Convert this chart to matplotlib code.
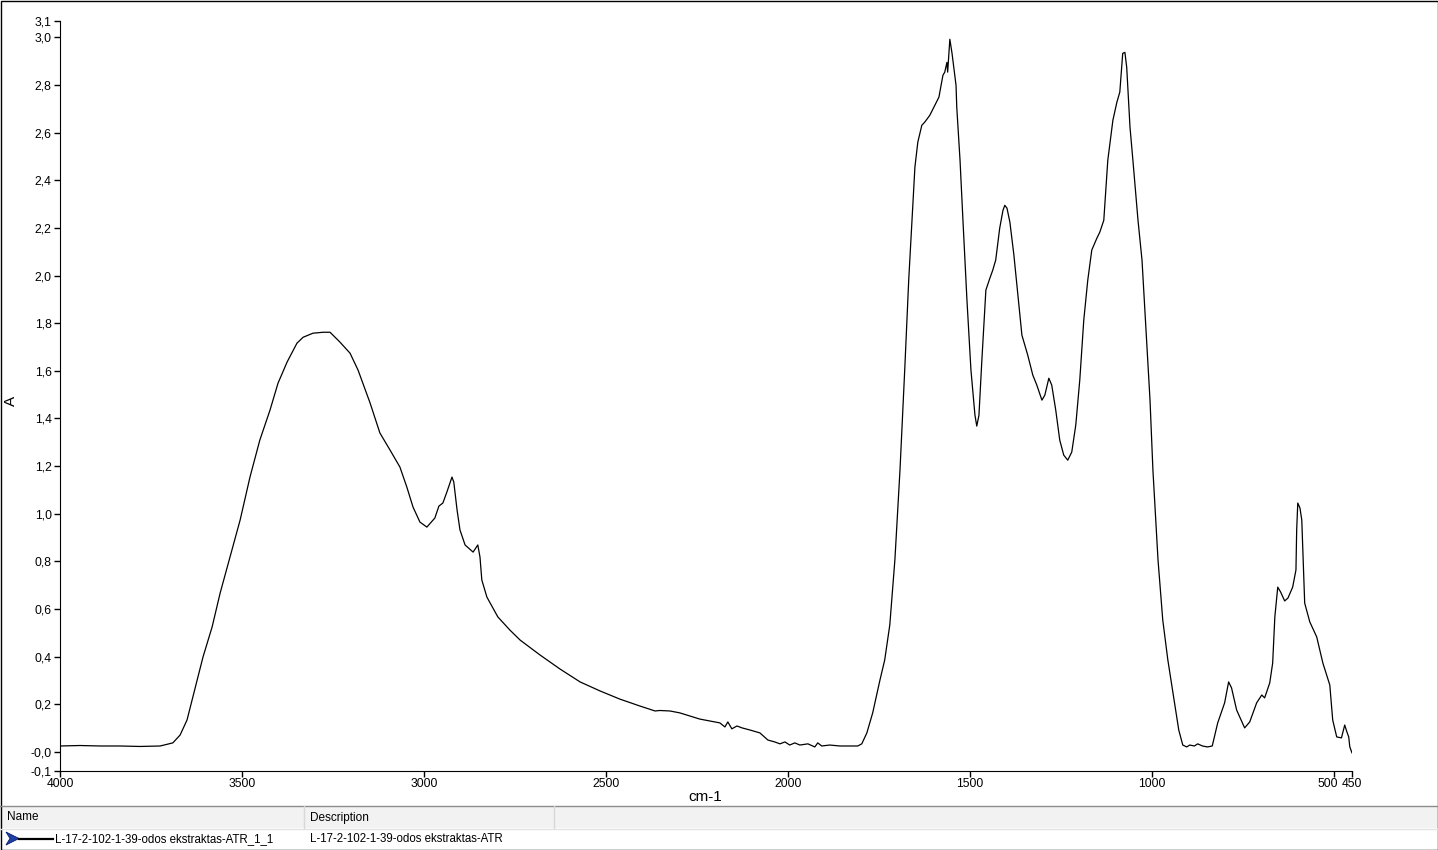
import matplotlib
matplotlib.use("Agg")
import matplotlib.pyplot as plt
import matplotlib.transforms as mtransforms
from matplotlib.patches import Polygon, Rectangle

plt.rcParams['font.family'] = ['Liberation Sans', 'DejaVu Sans']

# Spectrum: wavenumber (cm-1) and absorbance
wavenumber = [
    4000, 3945, 3890, 3835, 3780, 3725, 3690, 3670, 3651, 3635, 3607, 3582,
    3560, 3533, 3505, 3478, 3451, 3423, 3401, 3376, 3349, 3332, 3305, 3277,
    3258, 3231, 3203, 3181, 3148, 3121, 3093, 3066, 3047, 3030, 3011, 2992,
    2970, 2959, 2948, 2937, 2923, 2918, 2909, 2901, 2887, 2865, 2852, 2846,
    2841, 2827, 2797, 2764, 2736, 2681, 2626, 2571, 2516, 2462, 2407, 2365,
    2352, 2324, 2297, 2242, 2187, 2173, 2165, 2154, 2140, 2126, 2104, 2077,
    2055, 2036, 2022, 2008, 1995, 1981, 1967, 1945, 1926, 1918, 1907, 1885,
    1857, 1830, 1808, 1797, 1783, 1767, 1747, 1734, 1720, 1706, 1692, 1679,
    1668, 1659, 1651, 1643, 1632, 1624, 1610, 1596, 1585, 1574, 1569, 1563,
    1561, 1555, 1549, 1538, 1536, 1527, 1519, 1508, 1497, 1486, 1481, 1475,
    1467, 1456, 1445, 1437, 1429, 1418, 1409, 1404, 1398, 1390, 1379, 1368,
    1357, 1349, 1341, 1327, 1316, 1302, 1294, 1283, 1275, 1264, 1253, 1242,
    1231, 1220, 1209, 1198, 1187, 1176, 1165, 1151, 1143, 1132, 1121, 1107,
    1096, 1088, 1080, 1074, 1069, 1060, 1052, 1038, 1027, 1016, 1005, 997,
    983, 970, 956, 939, 926, 915, 904, 896, 883, 874, 861, 847, 834, 819,
    800, 789, 781, 767, 745, 731, 712, 698, 690, 676, 668, 662, 654, 646,
    635, 626, 613, 604, 602, 599, 593, 588, 580, 566, 547, 530, 511, 503,
    492, 479, 470, 464, 459, 456, 450,
]
absorbance = [
    0.025, 0.027, 0.025, 0.025, 0.023, 0.025, 0.038, 0.071, 0.134, 0.231, 0.399, 0.525,
    0.667, 0.818, 0.974, 1.154, 1.309, 1.435, 1.548, 1.637, 1.716, 1.741, 1.758, 1.762,
    1.762, 1.721, 1.674, 1.603, 1.465, 1.339, 1.267, 1.196, 1.112, 1.028, 0.965, 0.944,
    0.982, 1.032, 1.045, 1.091, 1.154, 1.133, 1.016, 0.932, 0.869, 0.839, 0.869, 0.818,
    0.722, 0.650, 0.567, 0.512, 0.470, 0.407, 0.348, 0.294, 0.256, 0.222, 0.193, 0.172,
    0.174, 0.172, 0.164, 0.138, 0.122, 0.105, 0.126, 0.097, 0.109, 0.101, 0.092, 0.080,
    0.050, 0.042, 0.034, 0.042, 0.029, 0.038, 0.029, 0.034, 0.021, 0.038, 0.025, 0.029,
    0.025, 0.025, 0.025, 0.034, 0.080, 0.164, 0.302, 0.386, 0.533, 0.806, 1.183, 1.603,
    1.981, 2.232, 2.455, 2.560, 2.631, 2.644, 2.673, 2.715, 2.749, 2.841, 2.854, 2.895,
    2.854, 2.992, 2.933, 2.799, 2.707, 2.484, 2.232, 1.897, 1.603, 1.414, 1.368, 1.414,
    1.645, 1.939, 1.989, 2.023, 2.065, 2.199, 2.274, 2.295, 2.283, 2.224, 2.086, 1.918,
    1.750, 1.708, 1.666, 1.582, 1.540, 1.477, 1.498, 1.569, 1.540, 1.435, 1.309, 1.246,
    1.225, 1.259, 1.372, 1.561, 1.813, 1.981, 2.107, 2.157, 2.182, 2.232, 2.484, 2.652,
    2.728, 2.770, 2.933, 2.937, 2.874, 2.623, 2.484, 2.232, 2.065, 1.771, 1.477, 1.183,
    0.806, 0.554, 0.386, 0.218, 0.092, 0.029, 0.021, 0.029, 0.025, 0.034, 0.025, 0.021, 0.025, 0.122,
    0.206, 0.294, 0.269, 0.176, 0.101, 0.126, 0.206, 0.239, 0.227, 0.290, 0.373, 0.567, 0.692, 0.671,
    0.634, 0.646, 0.692, 0.764, 0.932, 1.045, 1.024, 0.974, 0.625, 0.546, 0.483, 0.373, 0.281, 0.134,
    0.063, 0.059, 0.113, 0.084, 0.063, 0.021, -0.004,
]

x_ticks = [4000, 3500, 3000, 2500, 2000, 1500, 1000, 500, 450]
x_labels = ["4000", "3500", "3000", "2500", "2000", "1500", "1000", "500", "450"]
y_ticks = [-0.08, 0.0, 0.2, 0.4, 0.6, 0.8, 1.0, 1.2, 1.4, 1.6, 1.8, 2.0, 2.2,
           2.4, 2.6, 2.8, 3.0, 3.07]
y_labels = ["-0,1", "-0,0", "0,2", "0,4", "0,6", "0,8", "1,0", "1,2", "1,4",
            "1,6", "1,8", "2,0", "2,2", "2,4", "2,6", "2,8", "3,0", "3,1"]

series_name = "L-17-2-102-1-39-odos ekstraktas-ATR_1_1"
series_desc = "L-17-2-102-1-39-odos ekstraktas-ATR"

W, H = 1438, 850
fig = plt.figure(figsize=(W / 100, H / 100), dpi=100)

# Plot area in pixel units of the reference
left, right, top, bottom = 60, 1352, 20.7, 771
ax = fig.add_axes([left / W, 1 - bottom / H, (right - left) / W, (bottom - top) / H])
ax.plot(wavenumber, absorbance, color="black", linewidth=0.9)
ax.set_xlim(4000, 450)
ax.set_ylim(-0.08, 3.07)
ax.spines['top'].set_visible(False)
ax.spines['right'].set_visible(False)
ax.set_xticks(x_ticks)
ax.set_xticklabels(x_labels)
ax.set_yticks(y_ticks)
ax.set_yticklabels(y_labels)
ax.tick_params(axis='both', direction='out', length=4, width=1, labelsize=8.7, pad=2)
ax.tick_params(axis='x', pad=1)

# nudge the "500" label left so it does not run into "450"
lbl500 = ax.get_xticklabels()[x_labels.index("500")]
lbl500.set_transform(lbl500.get_transform() +
                     mtransforms.ScaledTranslation(-6 / 100, 0, fig.dpi_scale_trans))

# Overlay in pixel coordinates for labels, table and border
ov = fig.add_axes([0, 0, 1, 1], zorder=-1)
ov.set_xlim(0, W)
ov.set_ylim(H, 0)
ov.axis('off')

ov.text(11, 401, "A", rotation=90, ha="center", va="center", fontsize=11)
ov.text(705, 797, "cm-1", ha="center", va="center", fontsize=11)

# Bottom table
ov.add_patch(Rectangle((0, 806), W, 22, facecolor="#f2f2f2", edgecolor="none"))
ov.plot([0, W], [805.5, 805.5], color="#8c8c8c", linewidth=1)
ov.plot([0, W], [828.5, 828.5], color="#e2e2e2", linewidth=1)
ov.plot([303.5, 303.5], [806, 828], color="#d8d8d8", linewidth=1)
ov.plot([553.5, 553.5], [806, 828], color="#d8d8d8", linewidth=1)
ov.text(7, 817.5, "Name", ha="left", va="center", fontsize=8.5)
ov.text(310, 817.5, "Description", ha="left", va="center", fontsize=8.5)

ov.add_patch(Polygon([(6, 832), (19, 838.5), (6, 845), (10, 838.5)],
                     closed=True, facecolor="#1f3fa8", edgecolor="#0a1f6e", linewidth=0.6))
ov.plot([19, 53], [838.5, 838.5], color="black", linewidth=1.6)
ov.text(55, 839, series_name, ha="left", va="center", fontsize=8.3)
ov.text(310, 839, series_desc, ha="left", va="center", fontsize=8.3)

# Window border
ov.add_patch(Rectangle((0.5, 0.5), W - 1, H - 1, facecolor="none",
                       edgecolor="black", linewidth=1))

fig.savefig("out.png", dpi=100)
